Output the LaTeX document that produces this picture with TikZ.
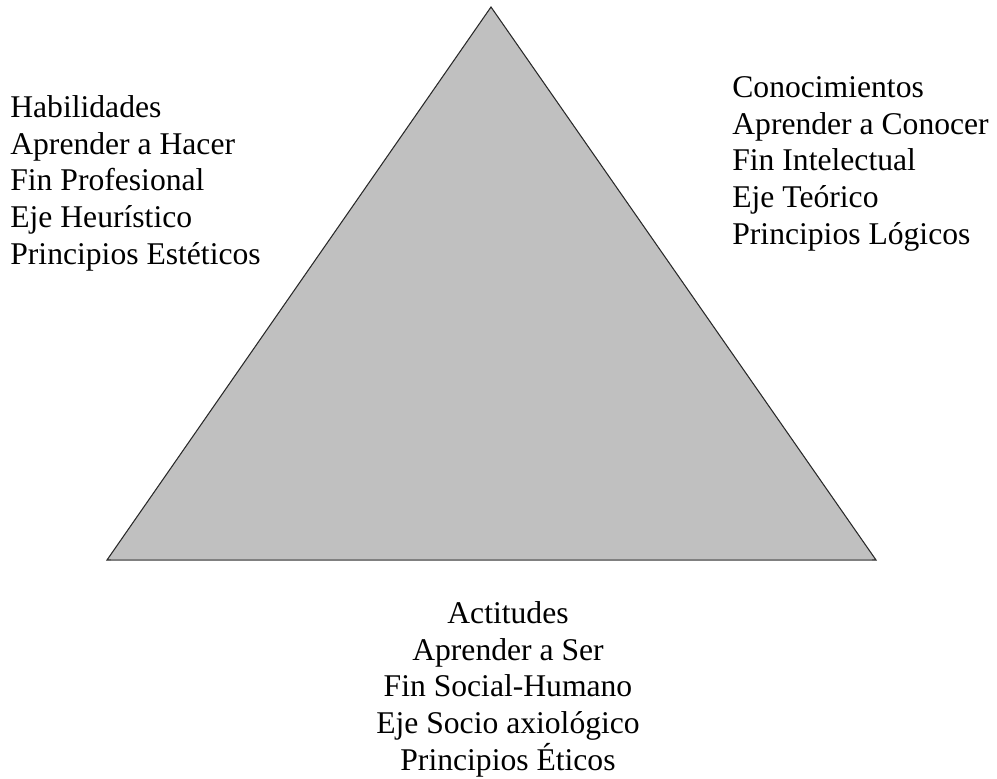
\documentclass[tikz,border=0pt]{standalone}
\usepackage{fontspec}
\setmainfont{Liberation Serif}
\usepackage{xcolor}
\usetikzlibrary{positioning}
\definecolor{trifill}{RGB}{192,192,192}
\definecolor{tririm}{RGB}{40,40,40}
\definecolor{tribase}{RGB}{128,128,128}

\begin{document}
\begin{tikzpicture}[
  x=0.02cm, y=-0.02cm,
  every node/.style={font=\fontsize{18}{20.9}\selectfont, inner sep=0pt},
  block/.style={align=left, anchor=north west},
  triangle/.style={fill=trifill, draw=tririm, line width=0.6pt, line join=miter},
  baseedge/.style={draw=tribase, line width=1.6pt}
]
  \useasboundingbox (0,0) rectangle (997,778);

  % corners
  \coordinate (apex) at (491,7);
  \coordinate (lcorner) at (107,560);
  \coordinate (rcorner) at (876,560);

  \draw[triangle] (apex) -- (rcorner) -- (lcorner) -- cycle;
  \draw[baseedge] ([xshift=2pt]lcorner) -- ([xshift=-2pt]rcorner);

  % the three vertices
  \node[block] (skills) at (10,95)
      {Habilidades\\Aprender a Hacer\\Fin Profesional\\Eje Heurístico\\Principios Estéticos};

  \node[block] (knowledge) at (732,76)
      {Conocimientos\\Aprender a Conocer\\Fin Intelectual\\Eje Teórico\\Principios Lógicos};

  \node[align=center, anchor=north] (attitudes) at (508,601)
      {Actitudes\\Aprender a Ser\\Fin Social-Humano\\Eje Socio axiológico\\Principios Éticos};
\end{tikzpicture}
\end{document}
